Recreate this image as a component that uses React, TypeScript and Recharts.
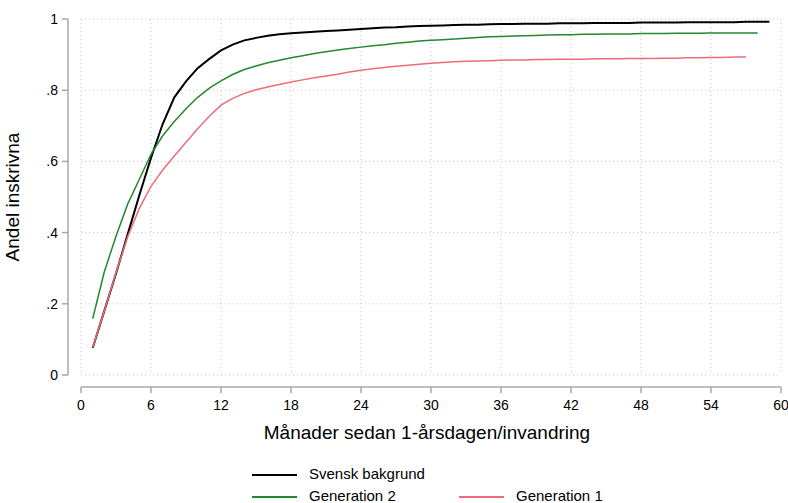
import React from 'react';
import { LineChart, Line, XAxis, YAxis, CartesianGrid, ReferenceLine } from 'recharts';

// Months since first birthday / immigration
const months = [
  1, 2, 3, 4, 5, 6, 7, 8, 9, 10, 11, 12, 13, 14, 15, 16, 17, 18, 19, 20,
  21, 22, 23, 24, 25, 26, 27, 28, 29, 30, 31, 32, 33, 34, 35, 36, 37, 38, 39, 40,
  41, 42, 43, 44, 45, 46, 47, 48, 49, 50, 51, 52, 53, 54, 55, 56, 57, 58, 59,
];

// Svensk bakgrund (months 1-59)
const svensk = [
  0.076, 0.18, 0.285, 0.395, 0.505, 0.61, 0.705, 0.78, 0.825, 0.862,
  0.888, 0.912, 0.928, 0.94, 0.947, 0.953, 0.957, 0.96, 0.962, 0.964,
  0.966, 0.968, 0.97, 0.972, 0.974, 0.976, 0.977, 0.979, 0.98, 0.981,
  0.982, 0.983, 0.984, 0.984, 0.985, 0.986, 0.986, 0.987, 0.987, 0.987,
  0.988, 0.988, 0.988, 0.989, 0.989, 0.989, 0.989, 0.99, 0.99, 0.99,
  0.99, 0.991, 0.991, 0.991, 0.991, 0.991, 0.992, 0.992, 0.992,
];

// Generation 2 (months 1-58)
const gen2 = [
  0.158, 0.29, 0.39, 0.48, 0.55, 0.62, 0.672, 0.712, 0.748, 0.78,
  0.806, 0.826, 0.844, 0.858, 0.868, 0.877, 0.884, 0.891, 0.897, 0.903,
  0.908, 0.913, 0.917, 0.921, 0.925, 0.928, 0.932, 0.935, 0.938, 0.94,
  0.942, 0.944, 0.946, 0.948, 0.95, 0.951, 0.952, 0.953, 0.954, 0.955,
  0.956, 0.956, 0.957, 0.957, 0.958, 0.958, 0.958, 0.959, 0.959, 0.959,
  0.96, 0.96, 0.96, 0.961, 0.961, 0.961, 0.961, 0.961,
];

// Generation 1 (months 1-57)
const gen1 = [
  0.077, 0.18, 0.288, 0.388, 0.468, 0.53, 0.576, 0.615, 0.654, 0.692,
  0.727, 0.758, 0.777, 0.791, 0.801, 0.809, 0.816, 0.823, 0.829, 0.835,
  0.84, 0.845, 0.851, 0.856, 0.86, 0.864, 0.867, 0.87, 0.873, 0.876,
  0.878, 0.88, 0.881, 0.882, 0.883, 0.884, 0.885, 0.885, 0.886, 0.886,
  0.887, 0.887, 0.887, 0.888, 0.888, 0.888, 0.889, 0.889, 0.889, 0.89,
  0.89, 0.891, 0.891, 0.892, 0.892, 0.893, 0.893,
];

const xTicks = [0, 6, 12, 18, 24, 30, 36, 42, 48, 54, 60];
const yTicks = [0, 0.2, 0.4, 0.6, 0.8, 1];
const yTickLabels = ['0', '.2', '.4', '.6', '.8', '1'];

const xTitle = 'Månader sedan 1-årsdagen/invandring';
const yTitle = 'Andel inskrivna';

const series = [
  { key: 'svensk', name: 'Svensk bakgrund', color: '#000000', width: 2 },
  { key: 'gen2', name: 'Generation 2', color: '#23882f', width: 1.5 },
  { key: 'gen1', name: 'Generation 1', color: '#f06b78', width: 1.5 },
];

const legendSlots = [
  { row: 0, col: 0 },
  { row: 1, col: 0 },
  { row: 1, col: 1 },
];

const data = months.map((m, i) => ({
  m,
  svensk: i < svensk.length ? svensk[i] : null,
  gen2: i < gen2.length ? gen2[i] : null,
  gen1: i < gen1.length ? gen1[i] : null,
}));

const AXIS_COLOR = '#a8a8a8';
const FONT = "'Liberation Sans', Arial, Helvetica, sans-serif";

const YTick = (props: any) => {
  const { x, y, payload } = props;
  const idx = yTicks.indexOf(payload.value);
  return (
    <g>
      <line x1={x - 19} x2={x - 13} y1={y} y2={y} stroke={AXIS_COLOR} strokeWidth={1.5} />
      <text x={x - 23} y={y + 5} textAnchor="end" fontSize={14} fill="#000">
        {idx >= 0 ? yTickLabels[idx] : String(payload.value)}
      </text>
    </g>
  );
};

const XTick = (props: any) => {
  const { x, y, payload } = props;
  return (
    <g>
      <line x1={x} x2={x} y1={y + 12} y2={y + 18} stroke={AXIS_COLOR} strokeWidth={1.5} />
      <text x={x} y={y + 35} textAnchor="middle" fontSize={14} fill="#000">
        {String(payload.value)}
      </text>
    </g>
  );
};

export default function App() {
  return (
    <div
      style={{
        position: 'absolute',
        left: 0,
        top: 0,
        width: 788,
        height: 503,
        background: '#fff',
        fontFamily: FONT,
      }}
    >
      <LineChart
        width={788}
        height={503}
        data={data}
        margin={{ top: 19, right: 7, bottom: 58, left: 0 }}
        style={{ fontFamily: FONT }}
      >
        <CartesianGrid stroke="#c4c4c4" strokeDasharray="1 3" />
        <XAxis
          dataKey="m"
          type="number"
          domain={[0, 60]}
          ticks={xTicks}
          interval={0}
          axisLine={false}
          tickLine={false}
          tickSize={0}
          tickMargin={0}
          height={70}
          tick={<XTick />}
          label={{
            content: (p: any) => {
              const vb = p.viewBox;
              return (
                <text
                  x={vb.x + vb.width / 2 - 4}
                  y={vb.y + 64}
                  textAnchor="middle"
                  fontSize={19}
                  fill="#000"
                >
                  {xTitle}
                </text>
              );
            },
          }}
        />
        <YAxis
          type="number"
          domain={[0, 1]}
          ticks={yTicks}
          interval={0}
          axisLine={false}
          tickLine={false}
          tickSize={0}
          tickMargin={0}
          width={81}
          tick={<YTick />}
          label={{
            content: (p: any) => {
              const vb = p.viewBox;
              const cy = vb.y + vb.height / 2;
              return (
                <text
                  x={19}
                  y={cy}
                  transform={`rotate(-90, 19, ${cy})`}
                  textAnchor="middle"
                  fontSize={19}
                  fill="#000"
                >
                  {yTitle}
                </text>
              );
            },
          }}
        />
        <ReferenceLine
          x={0}
          stroke={AXIS_COLOR}
          shape={(p: any) => (
            <line
              x1={p.x1 - 13}
              x2={p.x2 - 13}
              y1={p.y1}
              y2={p.y2}
              stroke={AXIS_COLOR}
              strokeWidth={1.5}
            />
          )}
        />
        <ReferenceLine
          y={0}
          stroke={AXIS_COLOR}
          shape={(p: any) => (
            <line
              x1={p.x1}
              x2={p.x2}
              y1={p.y1 + 12}
              y2={p.y2 + 12}
              stroke={AXIS_COLOR}
              strokeWidth={1.5}
            />
          )}
        />
        {series.map((s) => (
          <Line
            key={s.key}
            type="linear"
            dataKey={s.key}
            name={s.name}
            stroke={s.color}
            strokeWidth={s.width}
            dot={false}
            activeDot={false}
            connectNulls={false}
            isAnimationActive={false}
          />
        ))}
      </LineChart>
      {series.map((s, i) => {
        const slot = legendSlots[i];
        const left = 252 + slot.col * 207;
        const top = 475 + slot.row * 22;
        return (
          <div key={s.key} style={{ position: 'absolute', left, top: top - 10, height: 20 }}>
            <div
              style={{
                position: 'absolute',
                left: 0,
                top: 10 - 0.75,
                width: 45,
                height: 1.5,
                background: s.color,
              }}
            />
            <div
              style={{
                position: 'absolute',
                left: 57,
                top: 0,
                fontSize: 15,
                lineHeight: '18px',
                whiteSpace: 'nowrap',
                color: '#000',
              }}
            >
              {s.name}
            </div>
          </div>
        );
      })}
    </div>
  );
}
